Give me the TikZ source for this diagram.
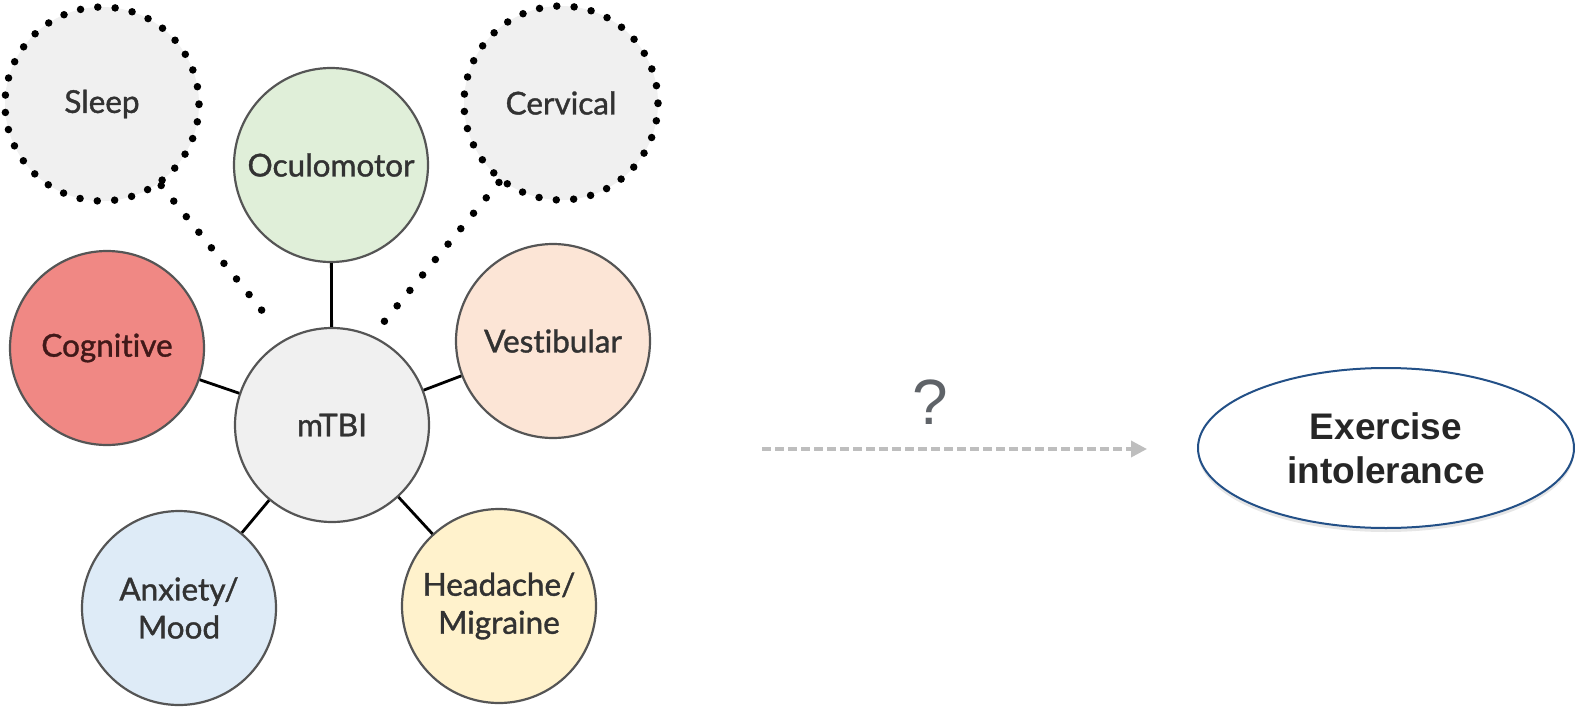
\documentclass[tikz,border=0pt]{standalone}
\usepackage{fontspec}
\usetikzlibrary{shapes.geometric,arrows.meta,shadows}
\newfontfamily\lato[FakeBold=1.2,Ligatures=NoCommon]{Lato}
\newfontfamily\arialf{Liberation Sans}
\definecolor{cgray}{RGB}{240,240,240}
\definecolor{cgreen}{RGB}{224,239,217}
\definecolor{cred}{RGB}{240,136,132}
\definecolor{cpeach}{RGB}{252,229,214}
\definecolor{cblue}{RGB}{222,235,247}
\definecolor{cyellow}{RGB}{255,242,204}
\definecolor{ctext}{RGB}{50,50,50}
\definecolor{credtext}{RGB}{65,25,25}
\definecolor{cborder}{RGB}{85,85,85}
\definecolor{carrow}{RGB}{190,190,190}
\definecolor{cq}{RGB}{95,99,104}
\definecolor{cellipse}{RGB}{35,80,135}
\tikzset{
  bubble/.style={circle, minimum size=194pt, inner sep=0pt, draw=cborder, line width=2.2pt,
    text=ctext, align=center, font=\lato\fontsize{31.5}{38}\selectfont},
  dotcircle/.style={circle, minimum size=194pt, inner sep=0pt, draw=black, fill=cgray,
    line width=7.5pt, line cap=round, dash pattern=on 0pt off 17.4pt,
    text=ctext, font=\lato\fontsize{31.5}{38}\selectfont},
  link/.style={draw=black, line width=2.8pt},
  dotlink/.style={draw=black, line width=7.5pt, line cap=round, dash pattern=on 0pt off 20pt},
}
\begin{document}
\begin{tikzpicture}[x=1pt,y=-1pt]
\useasboundingbox (0,0) rectangle (1575,707);
% satellites with dotted links
\node[dotcircle] (sleep) at (102,104) {Sleep};
\node[dotcircle] (cervical) at (561,103) {Cervical};
\coordinate (sleepend) at (272,323);
\coordinate (cervend) at (383,323);
\draw[dotlink] (sleep.-54) -- (sleepend);
\draw[dotlink] (cervical.-128) -- (cervend);
\node[bubble, fill=cgray] (mtbi) at (332,425) {mTBI};
\node[bubble, fill=cgreen] (oculo) at (331,165) {Oculomotor};
\node[bubble, fill=cred, text=credtext] (cog) at (107,348) {Cognitive};
\node[bubble, fill=cpeach] (vest) at (553,341) {Vestibular};
\node[bubble, fill=cblue] (anx) at (179,608) {Anxiety/\\Mood};
\node[bubble, fill=cyellow] (head) at (499,606) {Headache/\\Migraine};
\draw[link] (oculo) -- (mtbi);
\draw[link] (cog) -- (mtbi);
\draw[link] (vest) -- (mtbi);
\draw[link] (anx) -- (mtbi);
\draw[link] (head) -- (mtbi);
% right side
\node[ellipse, minimum width=376pt, minimum height=160pt, draw=cellipse, line width=2pt, fill=white,
  drop shadow={shadow xshift=0pt, shadow yshift=-4pt, opacity=0.2, fill=black!50},
  align=center, font=\arialf\bfseries\fontsize{37}{44}\selectfont, text=black!85] (ex) at (1386,448) {Exercise\\intolerance};
\coordinate (arrstart) at (762,449);
\coordinate (arrend) at (1147,449);
\draw[draw=carrow, line width=3.5pt, dash pattern=on 9pt off 4pt, -{Triangle[length=16pt,width=16pt]}] (arrstart) -- (arrend);
\node[font=\arialf\fontsize{64}{70}\selectfont, text=cq] (q) at (930,402) {?};
\end{tikzpicture}
\end{document}
